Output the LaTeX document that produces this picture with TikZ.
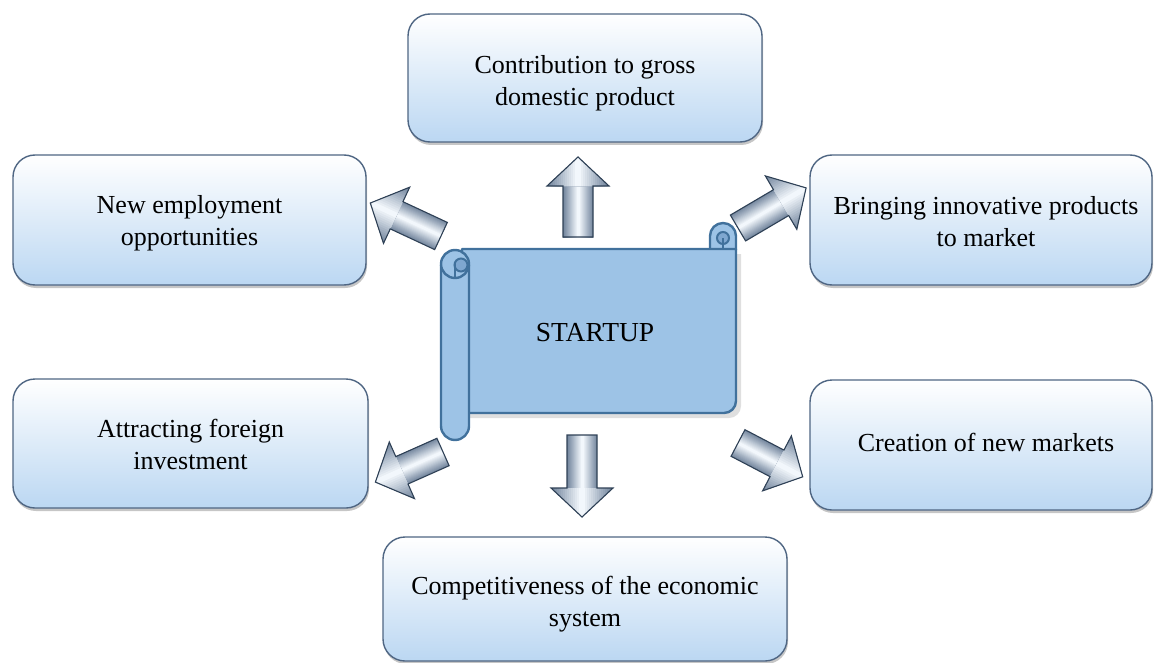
\documentclass[tikz,border=0pt]{standalone}
\usepackage{fontspec}
\setmainfont{Liberation Serif}
\usetikzlibrary{shadows}
\definecolor{boxtop}{HTML}{FFFFFF}
\definecolor{boxbot}{HTML}{BBD7F2}
\definecolor{boxedge}{HTML}{4F6683}
\definecolor{scrollfill}{HTML}{9DC3E6}
\definecolor{scrolldark}{HTML}{7FA7D0}
\definecolor{scrolledge}{HTML}{41719C}
\definecolor{arredge}{HTML}{2F4156}
\definecolor{arrside}{HTML}{71849C}
\definecolor{arrmid}{HTML}{F2F7FC}
% box text, lowered by #1
\newcommand{\bxt}[2]{\raisebox{-#1pt}[0pt][0pt]{\begin{tabular}{@{}c@{}}#2\end{tabular}}}
% block arrow: tail x, tail y, angle, length
\newcommand{\blockarr}[4]{%
  \begin{scope}[shift={(#1,#2)},rotate=#3]
    \begin{scope}
      \clip (0,-15) rectangle ({#4-29},15);
      \foreach \k in {0,...,14} {
        \pgfmathtruncatemacro\pp{100*\k/14}
        \pgfmathsetmacro\ww{15.5-15*\k/15}
        \fill[arrmid!\pp!arrside] (-2,-\ww) rectangle (#4,\ww);
      }
    \end{scope}
    \begin{scope}
      \clip ({#4-29},-31) -- (#4,0) -- ({#4-29},31) -- cycle;
      \foreach \k in {0,...,14} {
        \pgfmathtruncatemacro\pp{100*\k/14}
        \pgfmathsetmacro\ww{31.5-31*\k/15}
        \fill[arrmid!\pp!arrside] ({#4-31},-\ww) rectangle ({#4+2},\ww);
      }
    \end{scope}
    \draw[arrowline] (0,-15) -- ({#4-29},-15) -- ({#4-29},-31) -- (#4,0) -- ({#4-29},31) -- ({#4-29},15) -- (0,15) -- cycle;
  \end{scope}}
\begin{document}
\begin{tikzpicture}[x=1pt,y=-1pt,
  infobox/.style={draw=boxedge, line width=1.4pt, rounded corners=22pt,
    top color=boxtop, bottom color=boxbot,
    drop shadow={opacity=0.45, shadow xshift=1pt, shadow yshift=-3pt},
    align=center, font=\fontsize{26}{32}\selectfont, inner sep=0pt},
  arrowline/.style={draw=arredge, line width=1.1pt, line join=miter},
  scrollpart/.style={fill=scrollfill, draw=scrolledge, line width=2.4pt, line join=round},
  scrollcurl/.style={fill=scrolldark, draw=scrolledge, line width=2pt}
]
\useasboundingbox (0,0) rectangle (1155,663);

% boxes
\node[infobox, minimum width=354pt, minimum height=128pt] (gdp) at (585,78) {\bxt{11.5}{Contribution to gross\\domestic product}};
\node[infobox, minimum width=353pt, minimum height=130pt] (emp) at (189.5,220) {\bxt{9}{New employment\\opportunities}};
\node[infobox, minimum width=342pt, minimum height=130pt] (innov) at (981,220) {\bxt{10}{\hspace*{10pt}Bringing innovative products\\\hspace*{10pt}to market}};
\node[infobox, minimum width=355pt, minimum height=129pt] (fdi) at (190.5,443.5) {\bxt{10}{Attracting foreign\\investment}};
\node[infobox, minimum width=342pt, minimum height=130pt] (mkts) at (981,445) {\bxt{6}{\hspace*{10pt}Creation of new markets}};
\node[infobox, minimum width=404pt, minimum height=124pt] (comp) at (585,599) {\bxt{11.5}{Competitiveness of the economic\\system}};

% scroll: top-right curl
\path[scrollpart] (710,250) -- (710,236) to[out=90,in=180] (723,223) to[out=0,in=90] (736,236) -- (736,250);
\path[scrollcurl] (723,238) circle[radius=6];
\draw[scrolledge, line width=2pt] (723,238) -- (723,250);
% scroll: sheet
\path[scrollpart, drop shadow={opacity=0.25, shadow xshift=5pt, shadow yshift=-5pt}]
  (462,249) -- (736,249) -- (736,401) to[out=-90,in=0] (724,413) -- (462,413) -- cycle;
% scroll: left roll
\path[scrollpart] (441,265) -- (441,426) to[out=-90,in=180] (455,440) to[out=0,in=-90] (469,426) -- (469,265) -- cycle;
\path[scrollpart] (455,264) circle[radius=14];
\path[scrollcurl] (461,265) circle[radius=6.5];
\draw[scrolledge, line width=2pt] (455,264) -- (455,278);
\node[font=\fontsize{27.5}{32}\selectfont] (startup) at (595,333) {STARTUP};

% block arrows
\blockarr{578}{237}{90}{80}
\blockarr{582}{435}{-90}{82}
\blockarr{441}{236}{155}{78}
\blockarr{738}{228}{30.5}{79}
\blockarr{443}{452}{204}{74}
\blockarr{738}{443}{-27.6}{73}
\end{tikzpicture}
\end{document}
